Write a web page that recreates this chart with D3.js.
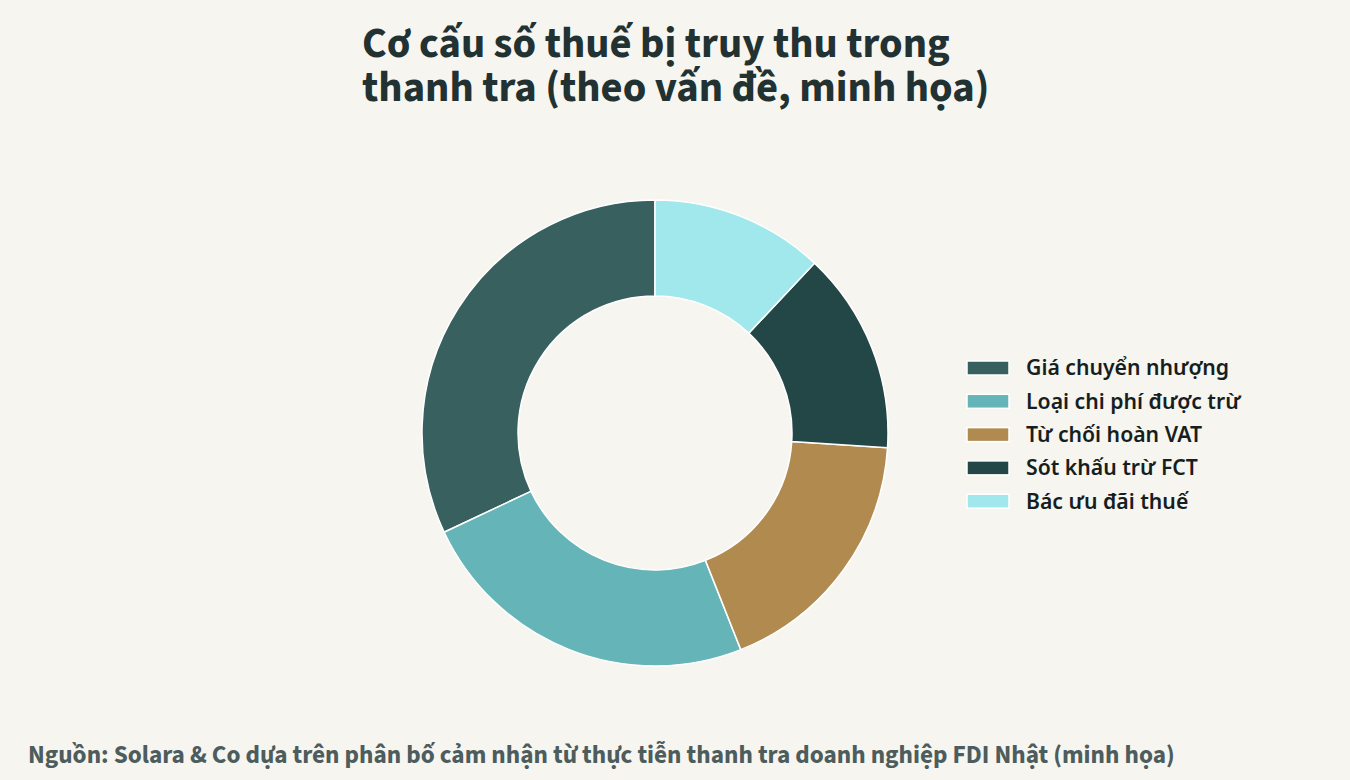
<!DOCTYPE html>
<html>
<head>
<meta charset="utf-8">
<script src="https://cdn.jsdelivr.net/npm/d3@7"></script>
<style>
  html, body { margin: 0; padding: 0; background: #f6f5f0; }
  svg { display: block; }
</style>
</head>
<body>
<svg id="chart" width="1350" height="780"></svg>
<script>
const titleLines = ["Cơ cấu số thuế bị truy thu trong", "thanh tra (theo vấn đề, minh họa)"];
const categories = ["Giá chuyển nhượng", "Loại chi phí được trừ", "Từ chối hoàn VAT", "Sót khấu trừ FCT", "Bác ưu đãi thuế"];
const values = [32, 24, 18, 14, 12];
const colors = ["#37605f", "#65b4b8", "#b08a4f", "#234647", "#a0e8eb"];
const sourceText = "Nguồn: Solara & Co dựa trên phân bố cảm nhận từ thực tiễn thanh tra doanh nghiệp FDI Nhật (minh họa)";

const svg = d3.select("#chart");
const W = 1350, H = 780;
svg.append("rect").attr("width", W).attr("height", H).attr("fill", "#f6f5f0");

const titleFont = "'Source Sans 3','Source Sans Pro','Noto Sans CJK SC','Noto Sans',sans-serif";

const title = svg.append("text")
  .attr("x", 362).attr("y", 57)
  .attr("font-family", titleFont)
  .attr("font-weight", 700)
  .attr("font-size", 42.6)
  .attr("fill", "#223232");
titleLines.forEach((t, i) => {
  title.append("tspan").attr("x", 362).attr("dy", i === 0 ? 0 : 44).text(t);
});

const data = categories.map((c, i) => ({ name: c, value: values[i], color: colors[i] }));
const color = d3.scaleOrdinal().domain(categories).range(colors);

const cx = 655, cy = 433, rOuter = 233, rInner = 137;
const pie = d3.pie().value(d => d.value).sort(null).startAngle(0).endAngle(-2 * Math.PI);
const arc = d3.arc().innerRadius(rInner).outerRadius(rOuter);

const g = svg.append("g").attr("transform", `translate(${cx},${cy})`);
g.selectAll("path").data(pie(data)).join("path")
  .attr("d", arc)
  .attr("fill", d => color(d.data.name))
  .attr("stroke", "#ffffff")
  .attr("stroke-width", 1.5);

const legend = svg.append("g").attr("transform", "translate(967,361)");
const rowH = 33.3;
const items = legend.selectAll("g").data(categories).join("g")
  .attr("transform", (d, i) => `translate(0,${i * rowH})`);
items.append("rect")
  .attr("width", 42).attr("height", 14)
  .attr("fill", d => color(d))
  .attr("stroke", "#ffffff").attr("stroke-width", 1.5);
items.append("text")
  .attr("x", 59).attr("y", 7).attr("dy", "0.35em")
  .attr("font-family", "'Noto Sans',sans-serif")
  .attr("font-weight", 600)
  .attr("font-size", 21.2)
  .attr("fill", "#161e1e")
  .text(d => d);

svg.append("text")
  .attr("x", 28).attr("y", 763)
  .attr("font-family", titleFont)
  .attr("font-weight", 700)
  .attr("font-size", 25.25)
  .attr("fill", "#4d5c5c")
  .text(sourceText);
</script>
</body>
</html>
